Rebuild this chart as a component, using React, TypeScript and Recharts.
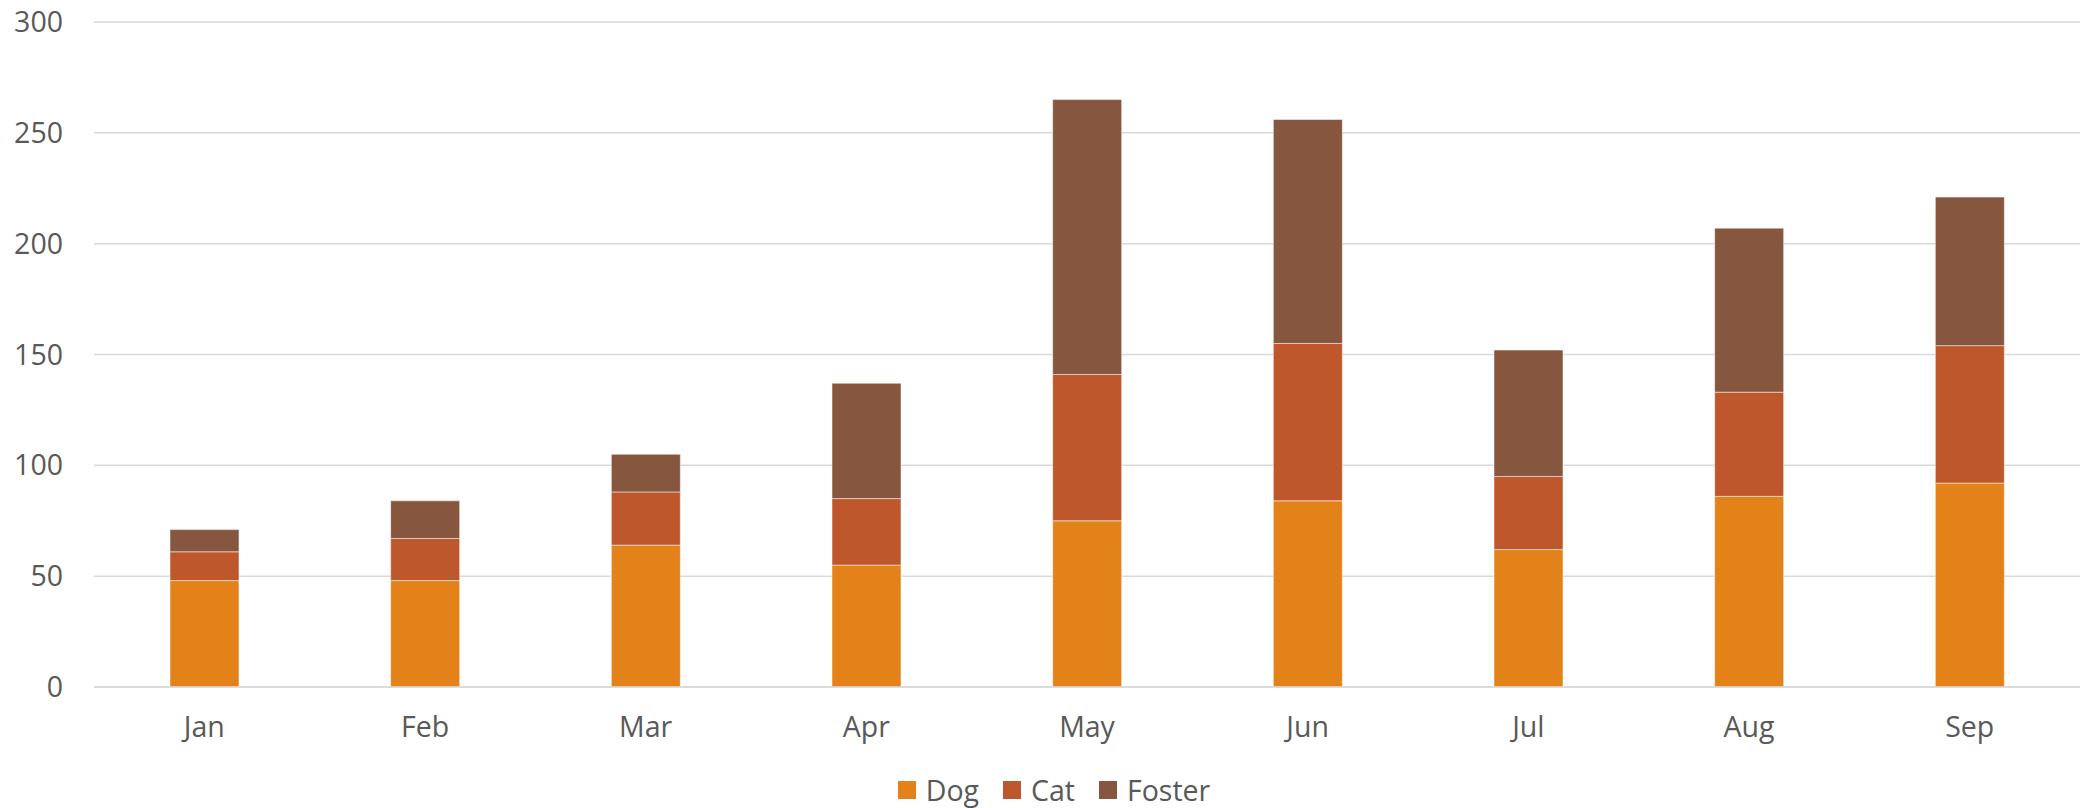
import React from 'react';
import { BarChart, Bar, XAxis, YAxis, CartesianGrid, Legend } from 'recharts';

const months = ['Jan', 'Feb', 'Mar', 'Apr', 'May', 'Jun', 'Jul', 'Aug', 'Sep'];
const dog = [48, 48, 64, 55, 75, 84, 62, 86, 92];
const cat = [13, 19, 24, 30, 66, 71, 33, 47, 62];
const foster = [10, 17, 17, 52, 124, 101, 57, 74, 67];
const yTicks = [0, 50, 100, 150, 200, 250, 300];

const series = [
    { key: 'Dog', color: '#E4821A' },
    { key: 'Cat', color: '#BE582C' },
    { key: 'Foster', color: '#86563F' },
];

const data = months.map((m, i) => ({ month: m, Dog: dog[i], Cat: cat[i], Foster: foster[i] }));

const font = '"Open Sans", "Noto Sans", sans-serif';
const textColor = '#595959';

const LegendBox = () => (
    <div
        style={{
            height: 61,
            boxSizing: 'border-box',
            paddingTop: 24,
            paddingLeft: 52,
            display: 'flex',
            justifyContent: 'center',
            alignItems: 'center',
            fontFamily: font,
            fontSize: 28.5,
            color: textColor,
        }}
    >
        {series.map((s) => (
            <div key={s.key} style={{ display: 'flex', alignItems: 'center', marginRight: 24, height: 37 }}>
                <span style={{ width: 18, height: 18, background: s.color, marginRight: 10, display: 'inline-block' }} />
                <span>{s.key}</span>
            </div>
        ))}
    </div>
);

const App = () => {
    return (
        <div style={{ position: 'absolute', left: 0, top: 0, width: 2082, height: 808, background: '#fff' }}>
            <BarChart
                width={2082}
                height={808}
                data={data}
                margin={{ top: 22, right: 2, left: 0, bottom: 0 }}
            >
                <CartesianGrid vertical={false} stroke="#D9D9D9" strokeWidth={1.5} />
                <XAxis
                    dataKey="month"
                    height={60}
                    axisLine={{ stroke: '#D9D9D9', strokeWidth: 1.5 }}
                    tickLine={false}
                    tickSize={0}
                    tickMargin={30}
                    tick={{ fill: textColor, fontSize: 28.5, fontFamily: font }}
                />
                <YAxis
                    width={94}
                    domain={[0, 300]}
                    ticks={yTicks}
                    axisLine={false}
                    tickLine={false}
                    tickSize={0}
                    tickMargin={31}
                    tick={{ fill: textColor, fontSize: 28.5, fontFamily: font }}
                />
                <Legend verticalAlign="bottom" content={<LegendBox />} />
                {series.map((s) => (
                    <Bar
                        key={s.key}
                        dataKey={s.key}
                        stackId="a"
                        fill={s.color}
                        barSize={69}
                        stroke="#ffffff"
                        strokeWidth={0.5}
                        isAnimationActive={false}
                    />
                ))}
            </BarChart>
        </div>
    );
};

export default App;
